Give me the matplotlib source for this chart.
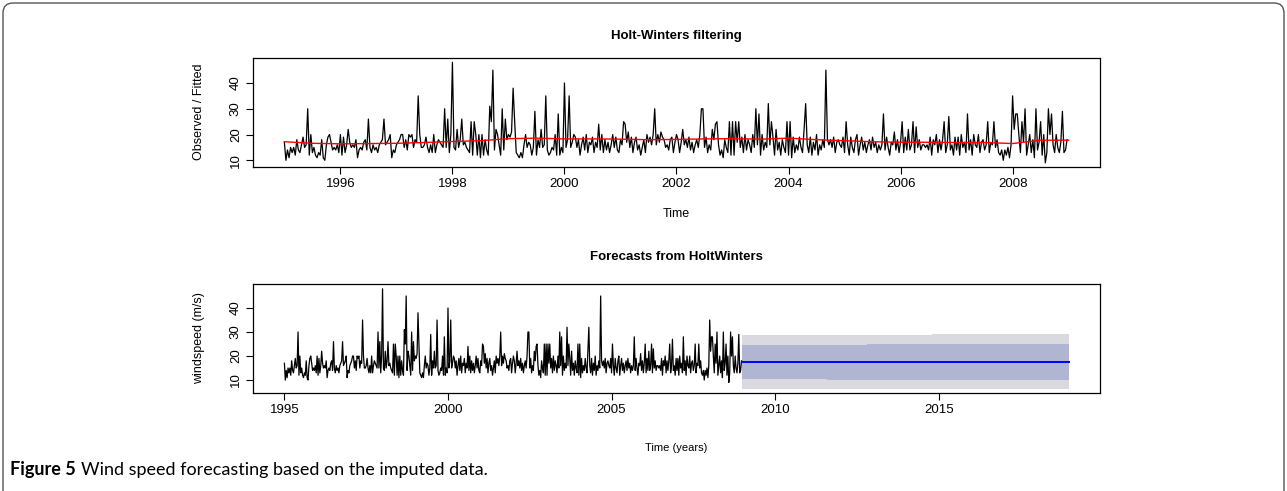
import numpy as np
import matplotlib
matplotlib.use("Agg")
import matplotlib.pyplot as plt
from matplotlib.patches import FancyBboxPatch

plt.rcParams['font.family'] = ['Liberation Sans', 'DejaVu Sans']

# observed wind speed, 36 values per year (dekadal), 1995 - 2008
obs_1995 = [17,10,14,11,15,13,15,12,18,14,13,16,19,15,16,30,12,20,13,15,12,11,13,12,18,11,10,16,19,20,17,14,15,14,16,13]
obs_1996 = [20,12,19,13,16,22,17,15,16,15,18,11,14,15,14,17,18,14,26,15,13,16,14,15,13,16,17,18,26,16,17,18,20,11,14,13]
obs_1997 = [16,17,18,20,20,15,18,14,20,19,20,15,18,17,35,20,15,15,16,19,15,13,16,13,20,13,16,18,17,16,15,30,15,26,13,20]
obs_1998 = [48,15,14,22,15,18,26,16,17,15,14,13,25,12,25,20,12,20,11,20,12,18,14,12,31,25,45,14,22,20,16,12,30,14,26,18]
obs_1999 = [20,19,21,38,25,13,12,11,13,11,16,20,15,17,16,12,15,29,12,18,15,22,15,16,35,14,12,13,15,14,20,12,28,12,15,13]
obs_2000 = [40,15,18,35,15,17,20,19,15,18,12,16,19,14,20,13,17,16,19,13,17,15,24,14,20,13,18,14,17,13,16,20,15,19,14,13]
obs_2001 = [18,16,25,24,17,21,15,19,13,17,19,14,16,12,15,18,13,20,17,19,16,20,30,16,20,17,21,19,18,15,16,14,18,19,13,17]
obs_2002 = [20,18,13,17,22,16,18,15,19,14,17,13,16,18,15,20,30,30,15,19,13,16,14,22,18,24,25,16,12,14,11,18,15,13,25,12]
obs_2003 = [25,12,25,17,25,15,19,13,20,14,18,16,13,20,15,30,16,28,12,20,14,17,15,32,16,25,19,12,22,14,17,12,18,15,13,25]
obs_2004 = [12,25,11,19,13,16,14,19,15,13,22,32,16,13,19,12,17,14,20,12,16,14,18,15,45,18,16,18,15,19,13,17,18,16,15,19]
obs_2005 = [13,25,16,12,19,15,13,18,20,12,16,19,14,17,13,16,18,14,19,15,17,13,16,14,16,28,14,19,15,12,17,16,21,14,18,13]
obs_2006 = [17,25,13,19,14,22,14,16,25,13,23,15,18,14,16,16,15,16,14,19,12,18,16,20,13,18,14,18,25,13,16,27,14,16,12,19]
obs_2007 = [14,19,12,20,15,17,13,28,14,18,12,20,16,15,20,13,17,18,14,16,25,13,17,16,25,15,18,13,12,14,10,14,12,15,11,16]
obs_2008 = [35,22,28,28,20,13,25,17,30,12,16,20,13,18,11,30,14,17,25,12,20,9,13,30,20,28,16,13,20,15,13,17,29,13,14,18]

# Holt-Winters fitted level, read every half year 1995.0 .. 2009.0
fit_years = [1995.0,1995.5,1996.0,1996.5,1997.0,1997.5,1998.0,1998.5,1999.0,1999.5,
             2000.0,2000.5,2001.0,2001.5,2002.0,2002.5,2003.0,2003.5,2004.0,2004.5,
             2005.0,2005.5,2006.0,2006.5,2007.0,2007.5,2008.0,2008.5,2009.0]
fit_vals = [17.2,16.6,16.4,16.5,16.6,16.9,17.3,17.6,18.4,18.6,
            18.3,18.3,18.2,18.0,18.1,18.3,18.4,18.2,18.6,18.0,
            17.6,17.2,17.0,17.0,16.9,16.9,16.5,17.8,17.8]

# forecast 2009-2019 with 80% / 95% intervals
fc_years = [2009.0, 2011.6, 2012.8, 2014.1, 2014.8, 2018.97]
fc_mean = [17.5, 17.5, 17.5, 17.5, 17.5, 17.5]
lo95 = [6.4, 6.4, 6.4, 6.1, 6.1, 6.1]
hi95 = [28.7, 28.7, 28.7, 28.7, 29.0, 29.0]
lo80 = [10.4, 10.0, 10.0, 10.0, 10.0, 10.0]
hi80 = [24.6, 24.6, 24.9, 24.9, 24.9, 24.9]

obs = np.array(obs_1995 + obs_1996 + obs_1997 + obs_1998 + obs_1999 + obs_2000 + obs_2001
               + obs_2002 + obs_2003 + obs_2004 + obs_2005 + obs_2006 + obs_2007 + obs_2008, dtype=float)
t = 1995 + np.arange(len(obs)) / 36.0

W, H = 1287, 491
fig = plt.figure(figsize=(W / 100, H / 100), dpi=100)

def px_axes(left, top, right, bottom):
    return fig.add_axes([left / W, 1 - bottom / H, (right - left) / W, (bottom - top) / H])

def style(ax):
    for s in ax.spines.values():
        s.set_linewidth(0.9)
    ax.tick_params(direction="out", length=5, width=0.8, labelsize=9.5, pad=3)
    for lab in ax.get_yticklabels():
        lab.set_rotation(90)
        lab.set_va("center")

# top panel: Holt-Winters filtering
ax1 = px_axes(253, 58, 1100, 167)
ax1.plot(t, obs, color="black", lw=0.9)
ax1.plot(fit_years, fit_vals, color="red", lw=1.0)
ax1.set_xlim(1994.44, 2009.56)
ax1.set_ylim(7.4, 49.7)
ax1.set_xticks([1996, 1998, 2000, 2002, 2004, 2006, 2008])
ax1.set_yticks([10, 20, 30, 40])
style(ax1)
fig.text(676 / W, 1 - 36 / H, "Holt-Winters filtering", ha="center", va="center",
         fontsize=9.5, fontweight="bold")
fig.text(676 / W, 1 - 214 / H, "Time", ha="center", va="center", fontsize=9)
fig.text(199 / W, 1 - 112 / H, "Observed / Fitted", ha="center", va="center",
         rotation=90, fontsize=9)

# bottom panel: forecasts
ax2 = px_axes(253, 284, 1100, 393)
ax2.fill_between(fc_years, lo95, hi95, step="post", color="#D9D9DF", lw=0)
ax2.fill_between(fc_years, lo80, hi80, step="post", color="#B0B5D1", lw=0)
ax2.plot(t, obs, color="black", lw=0.9)
ax2.plot(fc_years, fc_mean, color="#0000FF", lw=1.4)
ax2.set_xlim(1994.04, 2019.93)
ax2.set_ylim(4.6, 50.0)
ax2.set_xticks([1995, 2000, 2005, 2010, 2015])
ax2.set_yticks([10, 20, 30, 40])
style(ax2)
fig.text(676 / W, 1 - 257 / H, "Forecasts from HoltWinters", ha="center", va="center",
         fontsize=9.5, fontweight="bold")
fig.text(676 / W, 1 - 448 / H, "Time (years)", ha="center", va="center", fontsize=8)
fig.text(199 / W, 1 - 338 / H, "windspeed (m/s)", ha="center", va="center",
         rotation=90, fontsize=9)

# caption: bold lead-in followed by regular text
cap_bold = fig.text(10 / W, 1 - 470 / H, "Figure 5", ha="left", va="center", fontsize=13,
                    fontweight="bold", family=["Lato", "DejaVu Sans"])
fig.canvas.draw()
bb = cap_bold.get_window_extent()
fig.text((bb.x1 + 5) / W, 1 - 470 / H, "Wind speed forecasting based on the imputed data.",
         ha="left", va="center", fontsize=13, family=["Lato", "DejaVu Sans"])

# rounded frame around the figure
frame = FancyBboxPatch((3, -30), W - 6, H - 3 + 30, boxstyle="round,pad=0,rounding_size=10",
                       transform=None, fill=False, edgecolor="#555555", lw=1.0)
fig.patches.append(frame)

fig.savefig("out.png", dpi=100)
